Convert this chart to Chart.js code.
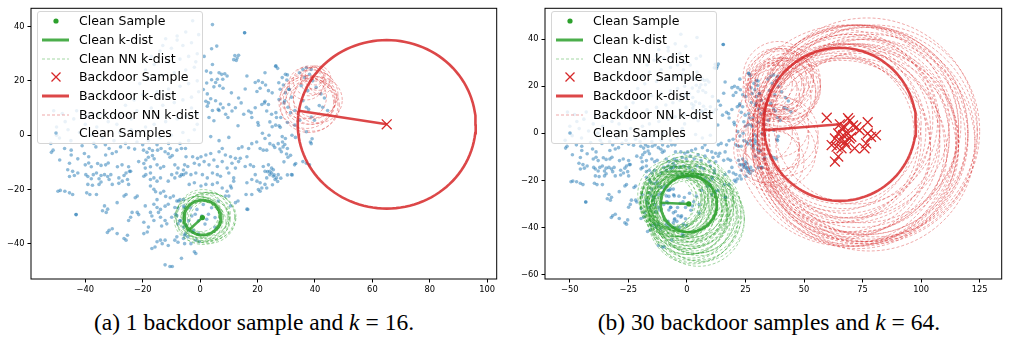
<!DOCTYPE html>
<html>
<head>
<meta charset="utf-8">
<script src="https://cdn.jsdelivr.net/npm/chart.js@4.4.1/dist/chart.umd.min.js"></script>
<style>
html,body{margin:0;padding:0;background:#fff;width:1010px;height:341px;overflow:hidden;position:relative;font-family:'DejaVu Sans',sans-serif;}
canvas{position:absolute;top:0;}
#c1{left:0;}
#c2{left:505px;}
.legend{position:absolute;top:11px;width:166px;height:133px;border:1px solid #d6d6d6;border-radius:3px;background:rgba(255,255,255,0.8);box-sizing:border-box;}
.row{position:absolute;left:0;height:18px;width:164px;font-size:12.5px;line-height:18px;color:#000;white-space:nowrap;}
.row svg{position:absolute;left:4px;top:0;}
.row span{position:absolute;left:41px;top:0;}
.cap{position:absolute;top:308px;font-family:'Liberation Serif','Times New Roman',serif;font-size:23.5px;line-height:28px;text-align:center;white-space:nowrap;color:#000;}
.cap .eq{display:inline-block;padding:0 6px;}
</style>
</head>
<body>
<canvas id="c1" width="505" height="300"></canvas>
<canvas id="c2" width="505" height="300"></canvas>
<div class="legend" id="lg1" style="left:37px"></div>
<div class="legend" id="lg2" style="left:551px"></div>
<div class="cap" style="left:0;width:508px">(a) 1 backdoor sample and <i>k</i><span class="eq">=</span>16.</div>
<div class="cap" style="left:514px;width:510px">(b) 30 backdoor samples and <i>k</i><span class="eq">=</span>64.</div>
<script>
// ---------------- DATA ----------------
const legendLabels = ['Clean Sample','Clean k-dist','Clean NN k-dist','Backdoor Sample','Backdoor k-dist','Backdoor NN k-dist','Clean Samples'];

const leftXTicks = [-40,-20,0,20,40,60,80,100];
const leftYTicks = [-40,-20,0,20,40];
const rightXTicks = [-50,-25,0,25,50,75,100,125];
const rightYTicks = [-60,-40,-20,0,20,40];

// clean samples (same embedding in both panels)
const cleanSamples = [
[4.3,40.7],[15.5,37.7],[15.5,37.7],[4.0,31.8],[5.8,32.8],[12.1,29.3],[12.9,28.4],[13.4,29.4],[11.7,27.8],[12.6,27.5],[1.4,29.0],[4.3,26.0],[2.2,23.6],[3.7,23.0],[6.6,23],[7.5,22.4],[8.6,22.6],[9.4,21.8],[7.9,20.6],[6,20.6],[5.4,19.4],[4.8,17.8],[6.8,18.2],[8,17.3],[16.3,21.8],[15.7,17],[22.6,23],[26.3,25.4],[27,24.6],[19.2,19.4],[20.3,20],[21.7,19.4],[22.8,18.5],[20.9,17.3],[19.8,16.1],[23.8,16.4],[25.1,15.6],[28.6,21.2],[29.7,22.4],[30.2,20.3],[27.4,19.3],[29,18.5],[27.9,16.9],[29.7,15.6],[30.9,16.9],
[2.5,15.2],[3.7,13.4],[2,12.5],[5.4,12.7],[7.1,11.5],[2.5,10.7],[4.3,9.1],[6.6,9.1],[8,10.1],[8.9,7.7],[3.1,6.5],[4.8,5.3],[10,11.3],[13.4,13.7],[12.3,10.1],[11.1,8.9],[15.2,7.7],[16.9,8.9],[18,6.5],[19.2,10.1],[21.5,11.3],[22.6,12.5],[23.8,11.3],[23.2,8.9],[24.9,7.7],[26.6,6.5],
[20.3,3.7],[24.3,4.9],[25.1,3.1],[26.3,3.7],[27.9,2.9],[21.7,0.7],[24,0],[3.7,-0.5],[10,-0.8],[6.6,-2],[22.6,-1.2],[19.7,-2.5],[28.6,-0.5],[29.7,-1.2],[32,0],[33.2,-0.8],
[34.6,23],[35.8,24.2],[37,24.8],[38.7,24.2],[38.1,22.4],[36.4,21.2],[39.2,20],[35.2,18.2],[40.4,17.6],[37.5,16.4],[42.1,15.2],[43.3,13.7],[41.5,10.9],[42.7,10.3],[44.4,9.1],[35.8,12.7],[37,10.3],[38.7,6.7],[39.8,5.5],[34.7,5.5],[33,9.1],[31.8,14],[29.5,12.7],[30.6,10.3],[33,3.7],[37,1.3],[37.8,9.5],[39,-1.3],[38.4,-2.5],
[26.4,8.3],[28.1,6.5],[30.4,4.7],[27.5,3.5],[31.5,8.3],[29.2,11.9],[27.5,13.1],[22.4,11.9],[26.4,25.5],[30.4,22.2],[31,16.8],[4,20.4],[10.9,15.6],[14.3,11.9],[17.8,8.3],[20.1,4.7],[13.2,3.5],[9.7,6.5],[6.3,9.5],[2.9,11.9],[1.1,16.8],[2.3,19.2],
[20.9,-4.9],[22,-5.5],[23.2,-5.5],[25.5,-3.7],[26,-4.5],[27.8,-5.1],[28.9,-4.3],[29.5,-3.4],[28.3,-6.1],[30.1,-6.9],[30.6,-8.1],[27.2,-3.1],[24.3,-3.1],[18,-3.1],[16.9,-4.9],[14.6,-4.3],[13.4,-4.9],[16.3,-7.9],[14,-8.5],
[-4.9,-7.9],[-2.6,-7.9],[-0.9,-8.5],[0.3,-7.9],[2,-7.3],[3.7,-6.7],[6.6,-6.1],[7.7,-4.9],[8.8,-7.3],[10.6,-7.9],[12.3,-8.5],
[-4.3,-11.5],[-2,-10.3],[-0.3,-10.9],[1.4,-9.7],[3.1,-10.9],[4.8,-9.1],[6,-11.5],[7.7,-9.7],[9.4,-12.1],[11.1,-10.3],[12.3,-12.1],[13.4,-9.7],[15.7,-11.5],[17.5,-10.9],[18.6,-11.5],
[-4.9,-13.9],[-3.2,-14.5],[-1.5,-13.9],[0.8,-14.5],[2.5,-15.7],[4.3,-13.9],[6,-14.5],[7.1,-15.1],[10,-13.9],[11.7,-15.7],[16.3,-17.5],[18,-16.3],[19.2,-14.5],[19.8,-16.9],[20.9,-17.5],[21.5,-19.4],[22.6,-18.1],[23.2,-15.7],[24.3,-14.5],[24.9,-13.9],[25.5,-15.1],[26.1,-16.3],[26.6,-15.7],[27.2,-14.5],[25.5,-12.7],[24.3,-13.3],[22.6,-13.3],[22,-11.5],[23.8,-10.9],[24.9,-12.1],[31.8,-14.5],[32.9,-10.9],[35.8,-9.7],[37,-10.3],[38.1,-10.9],[38.7,-3.1],
[-3.8,-18.1],[-2,-17.5],[0.3,-18.7],[2,-18.1],[4.3,-18.1],[6,-17.5],[7.7,-19.4],[9.4,-20.6],[10.6,-18.7],[11.7,-16.9],[12.3,-24.8],[10.6,-26],[8.8,-22.4],[10,-22.4],[16.3,-27.2],[18,-21.8],[20.3,-20],[20.9,-20.6],[23.2,-19.4],[-2,-42.9],[-1.5,-43.5],
[10.9,-19.4],[13.2,-24.2],[16,-21.8],[16.6,-27.3],[23.5,-13.4],[25.8,-14.6],[27,-17],[25.2,-18.2],[28.1,-15.8],[30.4,-14.6],[29.2,-9.8],[31.5,-7.4],[30.4,-4.9],[28.7,-2.5],[33.3,-10.4],[32.1,-14.6],
[-7.5,-24.2],[-5.7,-26.1],[-3.4,-26.7],[-1.7,-29.1],[-0.6,-31.5],[1.7,-32.7],[2.9,-29.1],[4,-26.7],[-2.3,-35.1],[-0.6,-36.3],[-5.2,-36.3],[-6.9,-31.5],[-8.6,-29.1],[6.3,-24.2],[5.2,-33.9],[1.1,-25.5],[-4,-31.5],[0.6,-29.7],[2.3,-30.9],[-1.1,-27.3],[-2.9,-29.7],[5.2,-30.3],[-4.9,-33.2],[-3.8,-35],[-2.6,-35.6],[-4.3,-37.4],[-1.5,-38.6],[-0.3,-39.2],[-3.2,-39.9],
[-51.2,-5.5],[-51.8,-6.3],[-47.2,-4.9],[-44.9,-5.5],[-41.1,-3.9],[-36.3,-4.3],[-31.7,-4.9],[-27.7,-4.3],[-24.9,-4.6],[-22.8,-5.1],[-19.7,-5.5],[-17.7,-4.9],[-16.6,-5.6],[-14.8,-5.5],[-13.6,-4.9],[-12.2,-6.1],[-11.1,-6.8],[-9.7,-7.5],[-10.4,-4.9],[-8.1,-5.5],[-6.5,-4.9],[-5.1,-4.9],
[-44.9,-7.3],[-42.6,-8.7],[-40.3,-6.7],[-38.8,-7.9],[-32.9,-7.3],[-30.6,-6.7],[-29.2,-6.1],[-18.5,-6.3],[-18,-8.1],[-16.6,-7.5],[-16,-8.7],[-18.9,-9.1],[-10.5,-8.1],[-48.9,-9.1],[-45.5,-10.3],[-40,-10.9],[-38.8,-10.2],[-37.9,-11.6],[-35.7,-10.4],[-34.5,-11.1],[-32.9,-10.9],[-32,-10.2],[-28.8,-11.6],[-27.2,-10.9],[-24.9,-11.6],[-24.2,-13.3],[-21.4,-9.7],[-19.6,-10.4],[-19.1,-12.1],[-17.3,-11.6],[-15,-10.9],[-13.8,-12.1],[-12.7,-11.5],[-8.8,-10.9],[-7.7,-12.1],[-5.8,-12.8],[-5.4,-10.9],[-6.5,-14.5],
[-46.1,-12.7],[-44.4,-13.3],[-43.8,-14.8],[-42.6,-13.9],[-45.5,-15.2],[-39.8,-14.5],[-39.1,-15.2],[-37.9,-16],[-37.2,-14.5],[-36.1,-13.9],[-34.5,-14.8],[-35.2,-16],[-33.3,-14.5],[-32.2,-15.2],[-34.5,-17.2],[-31.7,-16.3],[-31.1,-14.5],[-28.3,-15.7],[-27.1,-16.9],[-26.5,-14.8],[-25.8,-13.9],[-24.6,-13.3],[-25.3,-16.3],[-19.6,-15.1],[-18.9,-14.5],[-17.3,-13.9],[-17.3,-16.3],[-16.1,-15.7],[-15,-16.9],[-13.8,-15.7],[-11.1,-16.9],[-9.9,-14.5],[-8.8,-15.7],[-8.1,-13.9],[-7,-15.1],[-5.8,-14.5],
[-39.1,-18.1],[-37.5,-18.4],[-35.2,-18.1],[-30.6,-18.1],[-28.3,-17.7],[-24.9,-18.1],[-49.5,-20.6],[-48.7,-20.3],[-47.1,-20.6],[-45.5,-21.2],[-44.4,-21.8],[-39.5,-21.2],[-38.4,-21.8],[-36.1,-21.8],[-28.9,-24.8],[-26.5,-22.4],[-25.8,-21.8],[-22.6,-23],[-21.9,-22.4],[-17.3,-18.7],[-16.1,-19.9],[-15.5,-20.8],[-13.8,-21.3],[-12.7,-20.6],[-12,-22.5],[-10.4,-23],[-9.3,-22.4],[-8.1,-24.2],[-7,-23.7],[-5.8,-23.7],[-15,-23.7],[-19.1,-26],[-16.1,-25.4],[-15,-26.6],[-13.8,-27.3],[-12.2,-26.1],[-11.1,-25.4],[-8.8,-26.6],[-7.7,-26.8],[-5.4,-26.6],
[-43.2,-29.2],[-43.2,-29.2],[-33.3,-26],[-32.2,-27.2],[-34,-27.8],[-32.7,-28.4],
[-23.7,-28.4],[-21.9,-28.4],[-21.4,-29.2],[-24.9,-31.4],[-24.2,-30.2],[-17.3,-28.4],[-16.8,-29.7],[-16.1,-31.4],[-19.6,-32],[-18,-33.8],[-14.5,-28.4],[-13.8,-30.2],[-12.2,-31.4],[-13.4,-33.4],[-11.6,-32.6],[-9.9,-30.2],[-8.1,-29.6],[-7.7,-32.6],[-7,-31.4],[-5.8,-33.8],[-5.4,-36.8],
[-31.7,-35],[-30.6,-34.4],[-32.3,-35.8],[-28.9,-36.2],[-26.5,-38],[-25.8,-38.6],[-25.3,-36.8],[-19.6,-36.2],[-18.4,-35.6],[-15,-39.2],[-13.8,-38.6],[-13.2,-39.9],[-12.2,-38.6],[-11.1,-40.6],[-8.8,-38.6],[-7.7,-39.4],[-5.4,-39.9],[-8.1,-37.4],[-5.8,-38],[-16.8,-41.7],[-15.7,-41.1],[-6.5,-45.3],[-12.2,-47.7],[-10.5,-48.3],[-9.7,-48.3],
[-2.6,42.1],[-5,38],[-8,36.5],[-12,35.5],[-3,34],[-6,33],[-10,32],[-14,31],[-1,30],[-4,29],[-7,28],[-11,27],[-16,26],[-2,25],[-5,24],[-9,23],[-13,22],[-18,21],[-1,20],[-4,19],[-7,18],[-11,17],[-15,16],[-20,15],[-3,14],[-6,13],[-9,12],[-13,11],[-17,10],[-22,9],[-1,8],[-5,7],[-8,6],[-12,5],[-16,4],[-19,3],[-24,2],[-28,1],[-2,2],[-6,1],[-10,0],[-14,-1],[-18,-2],[-22,-2.5],[-26,-3],[-30,-2],[-34,-1],[-38,0],[-42,1],[-46,2],[-50,3],[-48,8],[-44,6],[-40,4],[-36,3],[-32,5],[-28,7],[-24,6],[-45,-2],[-49,-1],[-52,-3],[-37,-3],[-33,-3.5],[-51,9],[-50,0],[-47,5],[-43,9],[-39,7],[-35,8],[-8,35],[-13,33],[-17,29],[-19,24],[-21,19],[-23,13],[-26,11],[-29,4],[-0.5,37],[-1.5,27],[-0.5,16],[-3,10],[-1,4],[-4,-2],[-7,-3],[-11,-3],[-15,-3.5],[-20,-3.5]
];

// ---- panel (a): 1 backdoor sample, k = 16 ----
const aCleanSample = [0.8,-30.3];
const aCleanKdistR = 6.4;
const aCleanKdistEnd = [-3.6,-34.6];
const aCleanNNx = [1,2,0,3,1.5,-0.5,2.5,1,3.5,0.5,2,-1,4,1,3,0];
const aCleanNNy = [-30,-31,-29,-30,-32,-31,-29,-31,-31,-30,-30,-30,-30,-29,-30.5,-31];
const aCleanNNr = [7,8,6.5,9,7.5,8.5,8,9.2,7,9,6,7.5,8.5,9,9.3,6.8];
const aBackdoorSamples = [[65,4]];
const aBackdoorKdistR = 31;
const aBackdoorKdistEnd = [34.3,9.0];
const aBackNNx = [39,40,41,38,42,40,37,38,39,37,40,38,41,36,39,39];
const aBackNNy = [21,20,21,20,19,22,19,13,12,12,14,11,13,14,15,11];
const aBackNNr = [4,5,4.5,5.5,4,3.5,6,9,8,9.5,7.5,10,8.5,8,9,9.5];

// ---- panel (b): 30 backdoor samples, k = 64 ----
const bCleanSample = [0.8,-30];
const bCleanKdistR = 12;
const bCleanKdistEnd = [-11.2,-29.5];
const bCleanNNx = [-8,-7,-6,-5,-4,-3,-2,-7.5,-6.5,-5.5,-4.5,-3.5,-8.5,-6,-5,-4,-2.5,-7,-3,-6,-4.5,-5.5,
  2,3,4,5,1,0,2.5,3.5,4.5,1.5,0.5,5.5,3,2,4,6,1,3,
  -1,0,1,-2,-3,2,0.5,-1.5,1.5,-0.5,-2.5,3,-4,-1,0,2,-3,1,-2,0,-1,1,2.5,-0.5];
const bCleanNNy = [-28,-27,-29,-26,-28,-27,-29,-30,-26,-31,-29,-30,-29,-27.5,-28.5,-26.5,-28,-29,-31,-30,-27,-28,
  -35,-36,-34,-37,-33,-34,-36.5,-33,-35.5,-37,-35,-34,-31,-30,-32,-36,-28,-27,
  -30,-31,-29,-32,-33,-30,-28,-27,-33,-34,-31,-29,-32,-26,-25,-31,-30,-35,-29,-32,-33,-27,-34,-30];
const bCleanNNr = [12,13,12.5,14,13.5,12,13,12.5,14.5,13,15,14,11.5,13.5,12.5,15,14,13,12.5,14,13.5,12,
  18,19,17,19.5,16,17.5,19,18,18.5,17,16.5,18,17,18,19,18.5,18.5,17,
  14,15,15.5,14.5,15,16,16.5,15,16,15.5,14,16,13.5,16,17,15,14,16.5,15,15.5,16,15,16,13];
const bBackdoorSamples = [[59.7,6.6],[68.8,6.4],[69.5,5.4],[77.2,4.7],[65.3,3.8],[66,2],[67.4,2.6],[70.9,3.3],[72.3,2.6],[73.7,1.3],[64.6,-0.1],[66.7,-0.8],[68.8,-0.1],[70.2,-1.5],[77.2,-0.1],[78.6,-1.5],[80.7,-0.8],[63.2,-2.2],[65.3,-3],[67.4,-3.6],[69.5,-2.2],[61.8,-5],[63.9,-5.7],[66,-6.4],[71.6,-6.4],[75.8,-6.4],[76.5,-4.3],[64.6,-9.9],[63.2,-12],[68.1,-5]];
const bBackdoorCenter = [65.3,3.8];
const bBackdoorKdistR = 32.5;
const bBackdoorKdistEnd = [32.9,1.3];
const bBackNNx = [38,40,42,39,41,37,43,40,38,36,41,39,44,37,42,40,38,39,
  35,38,40,33,42,36,39,34,41,37,
  66,68,70,72,74,76,78,65,67,69,71,73,75,77,64,66,68,70,72,74,76,78,80,63,67,71,75,79,69,73,77,65,70,74,68,72];
const bBackNNy = [20,22,18,24,21,19,20,17,23,21,24,15,19,16,22,19,18,21,
  -5,-2,-8,0,-4,-10,3,-7,0,-12,
  4,2,0,-2,-4,1,-1,-3,-5,3,5,-6,-2,2,0,-7,-4,-1,2,0,-3,-5,1,-2,6,-8,4,-2,-6,3,-4,1,-3,-7,-1,5];
const bBackNNr = [12,14,13,15,11,10,14,15,13,9,12,14,13,11,15,16,12,10,
  13,14,15,12,14,12,13,14,15,13,
  34,36,38,40,42,44,46,35,37,39,41,43,45,47,33,38,40,42,44,46,43,45,45,36,38,40,42,44,41,43,39,37,45,41,47,35];

// ---------------- STYLE ----------------
const GREEN = '#2ca02c', RED = '#d62728';
const GREEN_SOLID = 'rgba(44,160,44,0.85)', RED_SOLID = 'rgba(214,39,40,0.85)';
const GREEN_DASH = 'rgba(44,160,44,0.55)', RED_DASH = 'rgba(214,39,40,0.5)';
const BLUE = 'rgba(31,119,180,0.5)';

function circlePts(cx, cy, r) {
  const pts = [];
  const n = 120;
  for (let i = 0; i <= n; i++) {
    const t = i / n * 2 * Math.PI;
    pts.push({x: cx + r * Math.cos(t), y: cy + r * Math.sin(t)});
  }
  return pts;
}
const toXY = arr => arr.map(p => ({x: p[0], y: p[1]}));
const fmt = v => (v < 0 ? '\u2212' + Math.abs(v) : String(v));

function panelDatasets(p) {
  const ds = [];
  ds.push({data: toXY(p.backdoor), pointStyle: 'crossRot', pointRadius: 7, borderColor: RED, backgroundColor: RED, pointBorderWidth: 1.3, showLine: false});
  ds.push({data: toXY([p.clean]), pointStyle: 'circle', pointRadius: 2.6, backgroundColor: GREEN, borderWidth: 0, pointBorderWidth: 0, showLine: false});
  ds.push({data: toXY([p.bCenter, p.bEnd]), showLine: true, borderColor: RED_SOLID, borderWidth: 2.5, pointRadius: 0});
  ds.push({data: circlePts(p.bCenter[0], p.bCenter[1], p.bR), showLine: true, borderColor: RED_SOLID, borderWidth: 2.6, pointRadius: 0});
  ds.push({data: toXY([p.clean, p.cEnd]), showLine: true, borderColor: GREEN_SOLID, borderWidth: 2.5, pointRadius: 0});
  ds.push({data: circlePts(p.clean[0], p.clean[1], p.cR), showLine: true, borderColor: GREEN_SOLID, borderWidth: 2.8, pointRadius: 0});
  for (let i = 0; i < p.bnx.length; i++)
    ds.push({data: circlePts(p.bnx[i], p.bny[i], p.bnr[i]), showLine: true, borderColor: RED_DASH, borderWidth: 0.8, borderDash: [3, 2], pointRadius: 0});
  for (let i = 0; i < p.cnx.length; i++)
    ds.push({data: circlePts(p.cnx[i], p.cny[i], p.cnr[i]), showLine: true, borderColor: GREEN_DASH, borderWidth: 0.8, borderDash: [3, 2], pointRadius: 0});
  ds.push({data: toXY(cleanSamples), pointStyle: 'circle', pointRadius: 1.8, backgroundColor: BLUE, borderWidth: 0, pointBorderWidth: 0, showLine: false});
  ds.forEach(d => { d.pointHoverRadius = d.pointRadius; d.tension = 0; d.fill = false; });
  return ds;
}

const framePlugin = {
  id: 'frame',
  afterDraw(chart) {
    const {ctx, chartArea: a} = chart;
    ctx.save();
    ctx.strokeStyle = '#000';
    ctx.lineWidth = 1;
    ctx.strokeRect(a.left, a.top, a.right - a.left, a.bottom - a.top);
    ctx.restore();
  }
};

function axis(min, max, ticks, isY, size) {
  return {
    type: 'linear', min, max,
    afterBuildTicks: s => { s.ticks = ticks.map(v => ({value: v})); },
    afterFit: s => {
      if (isY) { s.width = size; s.paddingTop = 0; s.paddingBottom = 0; }
      else { s.height = size; s.paddingLeft = 0; s.paddingRight = 0; }
    },
    ticks: {font: {family: 'DejaVu Sans', size: 8.3}, color: '#000', padding: isY ? 3 : 2,
            autoSkip: false, maxRotation: 0, minRotation: 0, callback: v => fmt(v)},
    grid: {drawOnChartArea: false, drawTicks: true, tickLength: 3.5, tickColor: '#000', tickWidth: 1},
    border: {display: false}
  };
}

function makeChart(id, p, xr, yr, xt, yt, yW, pad) {
  new Chart(document.getElementById(id), {
    type: 'scatter',
    data: {datasets: panelDatasets(p)},
    options: {
      responsive: false, animation: false, events: [],
      layout: {padding: pad},
      plugins: {legend: {display: false}, tooltip: {enabled: false}},
      scales: {x: axis(xr[0], xr[1], xt, false, 21), y: axis(yr[0], yr[1], yt, true, yW)}
    },
    plugins: [framePlugin]
  });
}

makeChart('c1', {
  clean: aCleanSample, cR: aCleanKdistR, cEnd: aCleanKdistEnd,
  cnx: aCleanNNx, cny: aCleanNNy, cnr: aCleanNNr,
  backdoor: aBackdoorSamples, bCenter: aBackdoorSamples[0], bR: aBackdoorKdistR, bEnd: aBackdoorKdistEnd,
  bnx: aBackNNx, bny: aBackNNy, bnr: aBackNNr
}, [-58.9, 103.3], [-52.9, 46.7], leftXTicks, leftYTicks, 31, {left: 0, top: 4.3, right: 2.3, bottom: 0});

makeChart('c2', {
  clean: bCleanSample, cR: bCleanKdistR, cEnd: bCleanKdistEnd,
  cnx: bCleanNNx, cny: bCleanNNy, cnr: bCleanNNr,
  backdoor: bBackdoorSamples, bCenter: bBackdoorCenter, bR: bBackdoorKdistR, bEnd: bBackdoorKdistEnd,
  bnx: bBackNNx, bny: bBackNNy, bnr: bBackNNr
}, [-60.6, 134.4], [-61.9, 53.1], rightXTicks, rightYTicks, 40, {left: 0, top: 4.3, right: 1, bottom: 0});

// ---------------- LEGENDS (HTML overlay) ----------------
const handles = [
  '<circle cx="14" cy="9" r="2.6" fill="' + GREEN + '"/>',
  '<line x1="0" y1="9" x2="27" y2="9" stroke="' + GREEN_SOLID + '" stroke-width="3"/>',
  '<line x1="0" y1="9" x2="27" y2="9" stroke="' + GREEN_DASH + '" stroke-width="0.8" stroke-dasharray="3,2"/>',
  '<path d="M9.5 4.5 L18.5 13.5 M18.5 4.5 L9.5 13.5" stroke="' + RED + '" stroke-width="1.3" fill="none"/>',
  '<line x1="0" y1="9" x2="27" y2="9" stroke="' + RED_SOLID + '" stroke-width="3"/>',
  '<line x1="0" y1="9" x2="27" y2="9" stroke="' + RED_DASH + '" stroke-width="0.8" stroke-dasharray="3,2"/>',
  '<circle cx="14" cy="9" r="1.8" fill="' + BLUE + '"/>'
];
['lg1', 'lg2'].forEach(id => {
  const box = document.getElementById(id);
  legendLabels.forEach((lab, i) => {
    const row = document.createElement('div');
    row.className = 'row';
    row.style.top = (0.3 + i * 18.67) + 'px';
    row.innerHTML = '<svg width="28" height="18" viewBox="0 0 28 18">' + handles[i] + '</svg><span>' + lab + '</span>';
    box.appendChild(row);
  });
});
</script>
</body>
</html>
